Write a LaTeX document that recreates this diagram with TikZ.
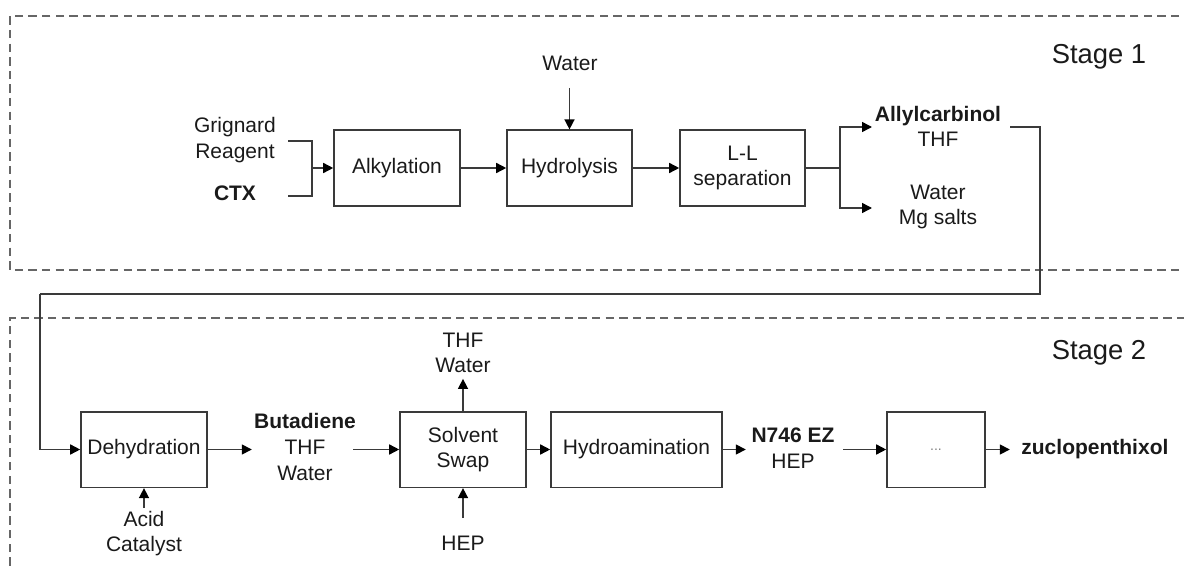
\documentclass[tikz,border=0pt]{standalone}
\usepackage{fontspec}
\setmainfont{Liberation Sans}
\usetikzlibrary{arrows.meta}
\definecolor{boxline}{HTML}{3A3A3A}
\definecolor{dashline}{HTML}{666666}
\definecolor{txt}{HTML}{1A1A1A}
\begin{document}
\begin{tikzpicture}[x=0.5pt,y=-0.5pt,
  every node/.style={font=\fontsize{10.5pt}{12.8pt}\selectfont, text=txt, align=center},
  unit/.style={draw=boxline, line width=0.8pt, inner sep=0pt, minimum height=37.8pt},
  arr/.style={draw=boxline, line width=0.75pt, -{Triangle[length=5pt,width=5pt,fill=black,color=black]}},
  ln/.style={draw=boxline, line width=0.75pt},
  stagebox/.style={draw=dashline, line width=0.85pt, dash pattern=on 4.2pt off 2.6pt},
  stagelabel/.style={font=\fontsize{13.7pt}{16pt}\selectfont},
  lab/.style={inner sep=1pt}]
\useasboundingbox (0,0) rectangle (1184,567);
\begin{scope}
\clip (0,0) rectangle (1184,567);
\draw[stagebox] (1220,16) -- (10,16) -- (10,270) -- (1220,270);
\draw[stagebox] (10,620) -- (10,318) -- (1220,318);
\end{scope}
% stage labels
\node[stagelabel] (st1) at (1099,57) {Stage 1};
\node[stagelabel] (st2) at (1099,353) {Stage 2};
% stage 1 units
\node (alk) [unit, minimum width=63pt] at (397,168) {Alkylation};
\node (hyd) [unit, minimum width=62.5pt] at (569.5,168) {Hydrolysis};
\node (ll) [unit, minimum width=62.5pt] at (742.5,168) {L-L\\separation};
% stage 1 labels
\node[lab] (grig) at (235,140) {Grignard\\Reagent};
\node[lab] (ctx) at (235,193) {\textbf{CTX}};
\node[lab] (water) at (570,63) {Water};
\node[lab] (allyl) at (938,126.5) {\textbf{Allylcarbinol}\\THF};
\node[lab] (wmg) at (938,207) {Water\\Mg salts};
% stage 1 connectors
\coordinate (bt) at (288,141);
\coordinate (bb) at (288,196);
\coordinate (bm) at (312,168);
\draw[ln] (bt) -| (bm) |- (bb);
\draw[arr] (bm) -- (alk.west);
\draw[arr] (alk.east) -- (hyd.west);
\draw[arr] (hyd.east) -- (ll.west);
\coordinate (wtop) at (569.5,88);
\draw[arr] (wtop) -- (hyd.north);
\coordinate (jn) at (840,168);
\draw[ln, line width=1pt] (ll.east) -- (jn);
\coordinate (ta) at (872,127);
\coordinate (tb) at (872,208);
\draw[arr] (jn) |- (ta);
\draw[arr] (jn) |- (tb);
% stage 2 units
\node (deh) [unit, minimum width=63pt] at (144,449.5) {Dehydration};
\node (ss) [unit, minimum width=63pt] at (463,449.5) {Solvent\\Swap};
\node (ha) [unit, minimum width=85.5pt] at (636.5,449.5) {Hydroamination};
\node (dots) [unit, minimum width=49pt, text=gray, font=\fontsize{7pt}{8pt}\selectfont] at (936,449.5) {...};
% stage 2 labels
\node[lab] (but) at (305,447) {\textbf{Butadiene}\\THF\\Water};
\node[lab] (thfw) at (463,353) {THF\\Water};
\node[lab] (hep) at (463,543) {HEP};
\node[lab] (acid) at (144,533.5) {Acid\\Catalyst};
\node[lab] (n746) at (793,448) {\textbf{N746 EZ}\\HEP};
\node[lab, anchor=west, inner sep=0pt] (zuc) at (1021,449) {\textbf{zuclopenthixol}};
% return line
\coordinate (r0) at (1010,127);
\coordinate (r1) at (1040,294);
\coordinate (r2) at (40,294);
\draw[ln] (r0) -| (r1) -- (r2);
\draw[arr] (r2) |- (deh.west);
% stage 2 connectors
\draw[arr] (deh.east) -- ++(44,0) coordinate (bin);
\coordinate (bout) at (353,449.5);
\draw[arr] (bout) -- (ss.west);
\draw[arr] (ss.north) -- ++(0,-32) coordinate (ssup);
\coordinate (hepup) at (463,518);
\draw[arr] (hepup) -- (ss.south);
\coordinate (acup) at (144,508);
\draw[arr] (acup) -- (deh.south);
\draw[arr] (ss.east) -- (ha.west);
\draw[arr] (ha.east) -- ++(23,0) coordinate (nin);
\coordinate (nout) at (843,449.5);
\draw[arr] (nout) -- (dots.west);
\draw[arr] (dots.east) -- ++(24,0) coordinate (zin);
\end{tikzpicture}
\end{document}
